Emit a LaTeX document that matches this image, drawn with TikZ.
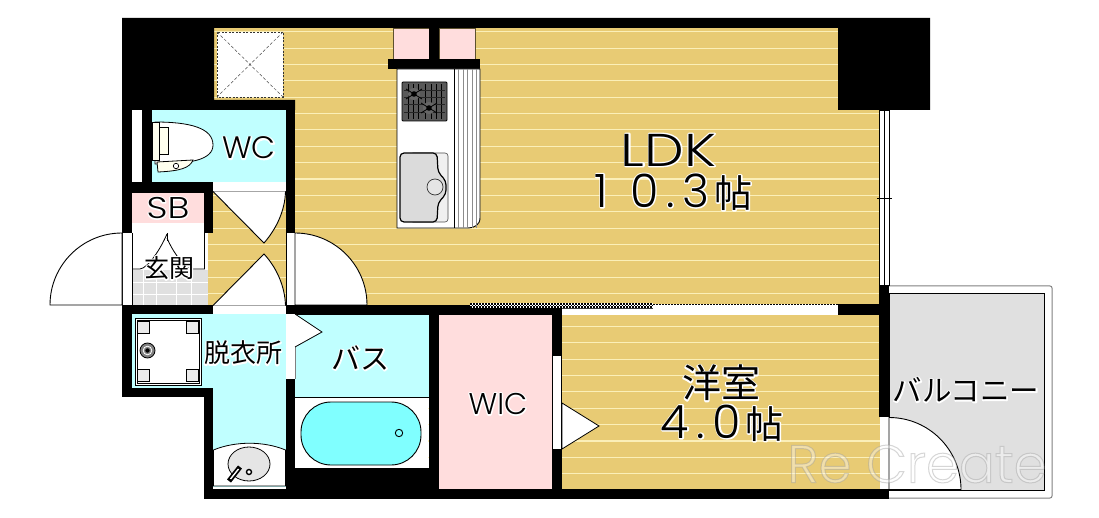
\documentclass[tikz,border=0pt]{standalone}
\usepackage{fontspec}
\setmainfont{Noto Sans CJK JP}
\newfontfamily\lat[UprightFont=* Light]{Poppins}
\newfontfamily\latw[UprightFont=* Light,FakeStretch=1.22]{Poppins}
\newfontfamily\latd[UprightFont=* Light,LetterSpace=17]{Poppins}
\definecolor{wood}{HTML}{E8CB74}
\definecolor{stripe}{HTML}{FBEFB8}
\definecolor{cyanroom}{HTML}{C0FFFF}
\definecolor{pinkroom}{HTML}{FFDDDD}
\definecolor{balc}{HTML}{E0E0E0}
\definecolor{tub}{HTML}{80FFFF}
\definecolor{ivory}{HTML}{FFFFEE}
\tikzset{
 wall/.style={fill=black,draw=none},
 lab/.style={inner sep=0pt,text=black,align=center},
}
\newcommand{\hl}[1]{\leavevmode\rlap{\special{pdf:code 1 Tr 1 1 1 RG 2.6 w 1 j}#1\special{pdf:code 0 Tr 0 0 0 RG}}#1}
\newcommand{\digs}{\latd\fontsize{46}{50}\selectfont}
\begin{document}
\begin{tikzpicture}[x=1pt,y=-1pt]
\useasboundingbox (0,0) rectangle (1099,518);
\fill[white] (0,0) rectangle (1099,518);
% wood floors
\fill[wood] (214,28) rectangle (880,305);
\fill[wood] (208,191) rectangle (286,305);
\fill[wood] (562,315) rectangle (880,490);
\foreach \i in {0,...,27}{
  \pgfmathsetmacro\yy{31.7+16.37*\i}
  \draw[stripe,line width=1.1pt] (208,\yy) -- (880,\yy);
}
% balcony
\draw[draw=gray,fill=white,line width=1pt,rounded corners=2pt] (880,286) -- (1052,286) -- (1052,498) -- (880,498);
\filldraw[fill=balc,draw=black,line width=.8pt] (889,293) rectangle (1044,490);
% cyan rooms
\fill[cyanroom] (152,110) rectangle (286,182);
\fill[cyanroom] (132,314) rectangle (286,388);
\fill[cyanroom] (213,388) rectangle (286,488);
\fill[cyanroom] (295,314) rectangle (429,397);
% pink rooms
\fill[pinkroom] (439,315) rectangle (552,489);
\filldraw[fill=pinkroom,draw=black!60!wood,line width=.6pt] (393,28) rectangle (429,60);
\filldraw[fill=pinkroom,draw=black!60!wood,line width=.6pt] (439,28) rectangle (475,60);
\fill[pinkroom] (132,193) rectangle (204,223);
% genkan
\fill[white] (132,223) rectangle (208,270);
\fill[balc] (132,270) rectangle (208,305);
\foreach \x in {143,156,176,191} \draw[white,line width=.8pt] (\x,270) -- (\x,305);
\foreach \y in {282,294} \draw[white,line width=.8pt] (132,\y) -- (208,\y);
% walls
\fill[wall] (122,18) -- (930,18) -- (930,110) -- (838,110) -- (838,28) -- (214,28) -- (214,100) -- (295,100) -- (295,110) -- (122,110) -- cycle;
\fill[wall] (285.5,100) rectangle (295,233);
\fill[wall] (122,110) rectangle (132,305);
\fill[wall] (142,110) rectangle (152,182);
\fill[wall] (122,182) rectangle (213,193);
\fill[wall] (204,182) rectangle (213,233);
\fill[wall] (122,305) rectangle (213,314);
\fill[wall] (122,305) rectangle (132,397);
\fill[wall] (122,388) rectangle (213,397);
\fill[wall] (204,388) rectangle (213,499);
\fill[wall] (204,489) rectangle (889,499);
\fill[wall] (286,305) rectangle (562,315);
\fill[wall] (286,379) rectangle (295,499);
\fill[wall] (286,468) rectangle (438,499);
\fill[wall] (429,305) rectangle (439,499);
\fill[wall] (552,305) rectangle (562,499);
\fill[wall] (838,304) rectangle (889,315);
\fill[wall] (879,285) rectangle (889,417);
\fill[wall] (429,18) rectangle (439,60);
\fill[wall] (388,59) rectangle (480,69);
% windows
\fill[white] (132,110) rectangle (142,182);
\filldraw[fill=white,draw=black,line width=.7pt] (879,110) rectangle (889,285);
\draw[line width=.7pt] (884,110) -- (884,285);
\draw[line width=.7pt] (877,198) -- (892,198);
\fill[white] (122,233) rectangle (132,305);
\draw[line width=.7pt] (122,233) -- (122,305) (132,233) -- (132,305);
\fill[white] (287,233) rectangle (295,305);
\draw[line width=.7pt] (286,233) -- (286,305);
\draw[gray,line width=.8pt] (295,233) -- (295,305);
\fill[white] (286,314) rectangle (295,379);
\draw[gray,line width=.8pt] (295,314) -- (295,379);
\fill[white] (553,356) rectangle (561,449);
\fill[white] (879.5,417) rectangle (889,489);
\draw[line width=.6pt] (889,417) -- (889,489);
% door bands
\fill[white] (213,182) rectangle (285.5,191);
\draw[line width=.8pt] (213,191.3) -- (285.5,191.3);
\fill[white] (213,305.5) rectangle (286,314);
\draw[line width=.7pt] (213,305.5) -- (286,305.5);
% sliding door
\fill[white] (562,308) rectangle (838,315);
\fill[white] (653,304) rectangle (838,308);
\draw[line width=.7pt,dash pattern=on 1.5pt off 1.5pt] (653,304) -- (838,304);
\draw[line width=.7pt] (838,304) -- (838,315);
\fill[white] (470,303) rectangle (653,308);
\draw[black!75,line width=.9pt] (562,308) -- (653,308);
\foreach \i in {0,...,60}{
 \pgfmathsetmacro\xx{470+3*\i}
 \fill[black] (\xx,303.3) rectangle +(1.6,1.5);
 \fill[black] (\xx+1.5,304.9) rectangle +(1.6,1.5);
 \fill[black] (\xx,306.4) rectangle +(1.6,1.5);
}
% storage niche
\filldraw[fill=white,draw=black!80,dash pattern=on 2pt off 1.5pt,line width=.8pt] (217,32) rectangle (283,97);
\draw[black!70,dash pattern=on 3pt off 2pt,line width=.5pt] (217,32) -- (283,97) (283,32) -- (217,97);
% doors
\filldraw[fill=white,draw=black,line width=.9pt] (50,305) arc[start angle=180,end angle=270,radius=72] -- (122,305) -- cycle;
\filldraw[fill=white,draw=black,line width=.9pt] (367,305) arc[start angle=0,end angle=-90,radius=72] -- (295,305) -- cycle;
\draw[line width=.9pt] (295,305) -- (367,305);
\filldraw[fill=white,draw=black,line width=.9pt] (213,191.5) -- (264,243) .. controls (277,228) and (285,210) .. (285.5,191.5);
\filldraw[fill=white,draw=black,line width=.9pt] (213,305.5) -- (264,254) .. controls (277,268) and (285,287) .. (285.5,305.5);
\filldraw[fill=white,draw=black,line width=.8pt] (295,314) -- (322,332) -- (295,347);
\filldraw[fill=white,draw=black,line width=.8pt] (562,403) -- (599,426) -- (562,449) -- cycle;
\filldraw[fill=white,draw=black,line width=.9pt] (961,489.5) arc[start angle=0,end angle=-90,radius=72] -- (889,489.5) -- cycle;
% genkan marks
\draw[line width=.8pt] (132,269) -- (140,269) .. controls (148,268) and (160,250) .. (167,234);
\draw[line width=.8pt] (167,233) -- (167,241);
\draw[line width=.8pt] (167,238) .. controls (172,250) and (180,262) .. (190,269) -- (204.5,269) -- (204.5,233);
% toilet
\filldraw[fill=white,draw=black,line width=.8pt] (155,122) .. controls (190,122) and (213,128) .. (213,145) .. controls (213,160) and (190,164) .. (155,164) -- cycle;
\filldraw[fill=ivory,draw=black,line width=.8pt] (152,122) -- (159,122) -- (159,127) -- (168,127) -- (168,154) -- (159,154) -- (159,160) -- (152,160) -- cycle;
\draw[line width=.8pt] (159,127) -- (159,154);
\filldraw[fill=ivory,draw=black,line width=.8pt] (157,162) -- (193,160) .. controls (190,168) and (180,171) .. (158,172) -- cycle;
\draw[line width=.7pt,fill=white] (176,166) circle (2.7);
% kitchen
\filldraw[fill=white,draw=black,line width=.9pt] (397,69) -- (480,69) -- (480,218) .. controls (480,225) and (474,228) .. (468,228) -- (397,228) -- cycle;
\draw[black,line width=.7pt] (454,69) -- (454,228);
\foreach \x in {458,463,467,472,476} \draw[black!45,line width=.7pt] (\x,69) -- (\x,228);
\filldraw[fill=black!65,draw=black,rounded corners=1pt,line width=.8pt] (402,82) rectangle (447,121);
\foreach \x in {408,413,418,425,431,436,441} \draw[black,line width=.8pt] (\x,84) -- (\x,119);
\foreach \y in {90,97,104,112} \draw[black!85,line width=.5pt] (404,\y) -- (445,\y);
\foreach \c in {(414,94),(429,108)}{
 \fill[black!60] \c circle (6);
 \draw[black,line width=.8pt] \c ++(-8,-5) -- ++(16,10);
 \draw[black,line width=.8pt] \c ++(8,-5) -- ++(-16,10);
 \fill[black] \c circle (2.8);
}
\filldraw[fill=black!6,draw=black!70,line width=.6pt,rounded corners=3pt] (410,153) -- (448,153) -- (448,222) -- (410,222) -- cycle;
\filldraw[fill=black!14,draw=black,line width=1.2pt,rounded corners=4pt] (400,153) -- (437,153) -- (438,172) -- (446,181) -- (446,194) -- (438,203) -- (437,222) -- (400,222) -- cycle;
\filldraw[fill=black!10,draw=black!80,line width=.7pt] (435,187) circle (8);
% washer pan
\filldraw[fill=white,draw=black,line width=.8pt] (135,318) rectangle (201,385);
\draw[line width=.7pt] (137,320) rectangle (199,383);
\foreach \x/\y in {137/321,186/321,137/369,186/369}
  \filldraw[fill=black!8,draw=black,line width=.6pt] (\x,\y) rectangle +(12.5,12.5);
\filldraw[fill=black!50,draw=black,line width=.8pt] (147.5,350.5) circle (7.5);
\draw[white,line width=.8pt] (147.5,350.5) circle (4.3);
\fill[black] (147.5,350.5) circle (2.2);
% wash basin
\filldraw[fill=white,draw=black,line width=.8pt] (213.5,450) .. controls (235,441) and (264,441) .. (285.5,450) -- (285.5,486) -- (213.5,486) -- cycle;
\draw[white,line width=1pt] (213,487.5) -- (286,487.5);
\filldraw[fill=black!10,draw=black,line width=.8pt] (249,464) ellipse (21 and 17);
\draw[black,line width=5pt] (229,481) -- (240,467);
\draw[white,line width=1.4pt] (230.5,479) -- (238.5,469);
\draw[line width=1.4pt,fill=white] (249,472) circle (2.5);
% bath
\fill[white] (295,397) rectangle (428,468);
\draw[line width=.7pt] (295,397) -- (429,397);
\filldraw[fill=tub,draw=black,line width=.9pt,rounded corners=30pt] (301,402) rectangle (421,465);
\draw[line width=.9pt] (399,433) circle (3.7);
% texts
\node[lab,font=\latw\fontsize{46}{50}\selectfont] (ldk) at (668.5,150) {\hl{LDK}};
\node[lab,font=\fontsize{38}{42}\selectfont] (ldkm) at (673.5,192) {\hl{{\digs 1\hskip22pt 0.3}\hskip5pt 帖}};
\node[lab,font=\lat\fontsize{31}{33}\selectfont] (wc) at (249,148) {\hl{WC}};
\node[lab,font=\latw\fontsize{30}{33}\selectfont] (sb) at (168,208) {\hl{SB}};
\node[lab,font=\fontsize{25}{27}\selectfont] (gk) at (169,268) {\hl{玄関}};
\node[lab,font=\fontsize{26}{28}\selectfont] (dr) at (243,353) {\hl{脱衣所}};
\node[lab,font=\fontsize{29}{31}\selectfont] (bs) at (360.5,358) {\hl{バス}};
\node[lab,font=\lat\fontsize{30}{33}\selectfont] (wic) at (498,404) {\hl{WIC}};
\node[lab,font=\fontsize{39}{42}\selectfont] (yo) at (721,383) {\hl{洋室}};
\node[lab,font=\fontsize{38}{42}\selectfont] (yom) at (722,423) {\hl{{\digs 4.0}\hskip4pt 帖}};
\node[lab,font=\fontsize{29.5}{31}\selectfont] (bk) at (966,390) {\hl{バルコニー}};
\node[lab,font=\lat\fontsize{53}{56}\selectfont,text=white,opacity=.4] (wm) at (917,464) {\special{pdf:code 2 Tr 0.6 0.6 0.6 RG 1 w}Re Create\special{pdf:code 0 Tr 0 0 0 RG}};
\end{tikzpicture}
\end{document}
